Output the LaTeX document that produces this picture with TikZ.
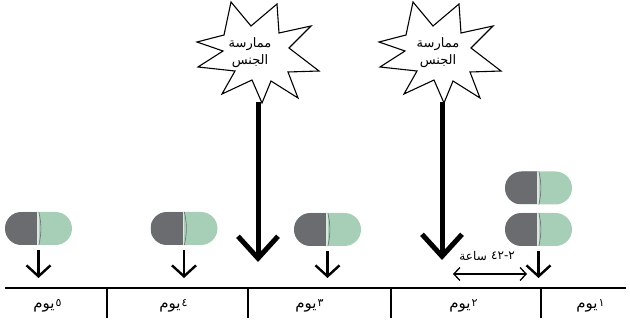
\documentclass[tikz,border=0pt]{standalone}
\usepackage{fontspec}
\newfontfamily\arabicfont[Script=Arabic]{DejaVu Sans}
\TeXXeTstate=1
\usetikzlibrary{arrows.meta}
\definecolor{pilldark}{HTML}{6B6C70}
\definecolor{pillgreen}{HTML}{A7CFB8}
\newcommand\burstshape[1]{%
  \draw[burstline] (#1) +(-24,-48) -- +(-4,-24) -- +(22,-46) -- +(24,-17) -- +(56,-24)
    -- +(34,-2) -- +(64,21) -- +(33,22) -- +(43,48) -- +(16,31) -- +(7,53)
    -- +(-3,30) -- +(-33,44) -- +(-20,21) -- +(-57,17) -- +(-32,1) -- +(-58,-8)
    -- +(-31,-15) -- cycle;}
\begin{document}
\begin{tikzpicture}[x=1pt,y=-1pt,
  pill/.style={rectangle, minimum width=67pt, minimum height=33pt, rounded corners=16.5pt,
    fill=pillgreen, inner sep=0pt,
    path picture={
      \fill[pilldark, sharp corners] (path picture bounding box.north west) rectangle ([xshift=-1pt]path picture bounding box.south);
      \draw[pillgreen!45!white, line width=1.6pt, sharp corners] ([xshift=-0.6pt]path picture bounding box.north) -- ([xshift=-0.6pt]path picture bounding box.south);
      \draw[pilldark, line width=0.6pt] ([xshift=0.4pt]path picture bounding box.north) to[bend left=12] ([xshift=0.4pt]path picture bounding box.south);
    }},
  pillarrow/.style={line width=2.4pt, -{Straight Barb[length=11pt,width=24pt]}, shorten <=5pt},
  bigarrow/.style={line width=5pt, -{Straight Barb[length=22pt,width=40pt]}},
  axis/.style={line width=2pt},
  burstline/.style={line width=1.1pt, line join=miter, fill=white},
  daylabel/.style={font=\arabicfont\fontsize{15}{17}\selectfont, inner sep=0pt},
  daydigit/.style={font=\arabicfont\fontsize{11}{12}\selectfont, inner sep=0pt, anchor=west},
  startext/.style={font=\arabicfont\fontsize{13}{17}\selectfont, align=center, inner sep=0pt},
  hoursarrow/.style={{Straight Barb[length=6pt,width=13pt]}-{Straight Barb[length=6pt,width=13pt]}, line width=1.3pt},
  hourslabel/.style={font=\arabicfont\fontsize{12}{13}\selectfont, inner sep=0pt}
]
\useasboundingbox (0,0) rectangle (630,323);

% timeline
\coordinate (tl) at (5,288);
\coordinate (tr) at (626,288);
\draw[axis] (tl) -- (tr);
\foreach \i/\x in {a/107,b/248,c/391,d/541}{
  \coordinate (t\i top) at (\x,288);
  \coordinate (t\i bot) at (\x,318);
  \draw[axis] (t\i top) -- (t\i bot);
}

% day labels
\foreach \n/\x/\d in {5/44/٥,4/170/٤,3/306/٣,2/460/٢,1/587/١}{
  \node[daylabel] (d\n) at (\x,308) {يوم};
  \node[daydigit] (dd\n) at ([xshift=0.5pt,yshift=4.5pt]d\n.east) {\d};
}

% pills
\node[pill] (p5) at (38.5,228.5) {};
\node[pill] (p4) at (184,228.5) {};
\node[pill] (p3) at (327.5,229.5) {};
\node[pill] (p1a) at (538.5,188) {};
\node[pill] (p1b) at (538.5,229.5) {};

% small arrows
\coordinate (a5) at (38.5,278);
\coordinate (a4) at (184,278);
\coordinate (a3) at (327.5,278);
\coordinate (a1) at (538.5,278);
\draw[pillarrow] (p5) -- (a5);
\draw[pillarrow] (p4) -- (a4);
\draw[pillarrow] (p3) -- (a3);
\draw[pillarrow] (p1b) -- (a1);

% bursts
\burstshape{255,50}
\burstshape{437,50}
\node[startext] (s1) at (250,53) {\beginR ممارسة\endR\\\beginR الجنس\endR};
\node[startext] (s2) at (438,53) {\beginR ممارسة\endR\\\beginR الجنس\endR};

% big arrows
\coordinate (b1top) at (258,102);
\coordinate (b1tip) at (258,262);
\coordinate (b2top) at (442,102);
\coordinate (b2tip) at (442,260);
\draw[bigarrow] (b1top) -- (b1tip);
\draw[bigarrow] (b2top) -- (b2tip);

% hours interval
\coordinate (hl) at (453,274);
\coordinate (hr) at (527,274);
\draw[hoursarrow] (hl) -- (hr);
\node[hourslabel, anchor=east] (hword) at (487,256) {ساعة};
\node[hourslabel, anchor=west] (hnum) at (491,256) {\mbox{٤٢}\mbox{-}\mbox{٢}};
\end{tikzpicture}
\end{document}
